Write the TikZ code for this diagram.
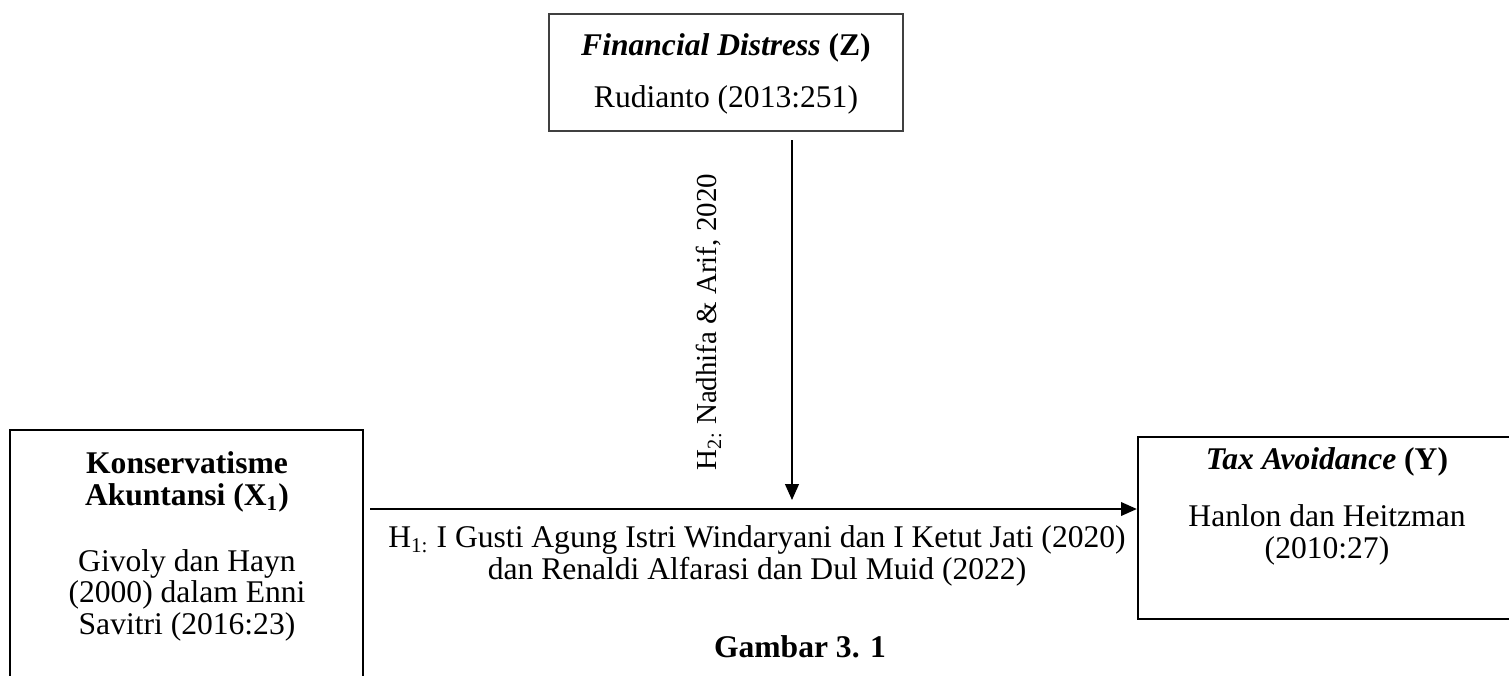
\documentclass[tikz,border=0pt]{standalone}
\usepackage{fontspec}
\newfontfamily\tnr{Liberation Serif}
\usetikzlibrary{arrows.meta,positioning}

\def\pxu{0.38pt}

\tikzset{
  % kotak variabel
  varbox/.style  = {draw, line width=0.9pt, inner sep=0pt},
  zbox/.style    = {draw=black!75, line width=0.6pt, inner sep=0pt},
  % teks
  txt/.style     = {font=\tnr\fontsize{12}{12}\selectfont, align=center, inner sep=0pt},
  boldtxt/.style = {txt, font=\tnr\bfseries\fontsize{12}{12}\selectfont},
  hyplab/.style  = {font=\tnr\fontsize{11}{12}\selectfont, inner sep=0pt},
  % panah
  arr/.style     = {-{Triangle[length=6pt,width=5.2pt]}, line width=0.6pt},
}

\begin{document}
\begin{tikzpicture}[x=\pxu, y=-\pxu]
  \useasboundingbox (0,0) rectangle (1509,675);
  % Kotak-kotak variabel
  \node[varbox, minimum width=353*\pxu, minimum height=260*\pxu] (X1) at (186.5,560) {};
  \node[varbox, minimum width=420*\pxu, minimum height=182*\pxu] (Y) at (1348,528) {};
  \node[zbox, minimum width=354*\pxu, minimum height=117*\pxu] (Z) at (726,72.5) {};
  % Isi kotak
  \node[boldtxt] (X1t) at (187,482) {Konservatisme\\Akuntansi (X\textsubscript{1})};
  \node[txt] (X1r) at (187,595) {Givoly dan Hayn\\(2000) dalam Enni\\Savitri (2016:23)};
  \node[txt] (Zt) at (726,48) {\textbf{\textit{Financial Distress} (Z)}};
  \node[txt] (Zr) at (726,100) {Rudianto (2013:251)};
  \node[txt] (Yt) at (1327,462) {\textbf{\textit{Tax Avoidance} (Y)}};
  \node[txt] (Yr) at (1327,535) {Hanlon dan Heitzman\\(2010:27)};
  % Panah hipotesis
  \coordinate (hstart) at (370,509);
  \coordinate (vtop) at (792,140);
  \coordinate (vend) at (792,500);
  \draw[arr] (hstart) -- (hstart -| Y.west);
  \draw[arr] (vtop) -- (vend);
  % Label hipotesis
  \node[txt] (H1) at (757,556) {H\textsubscript{1:} I Gusti Agung Istri Windaryani dan I Ketut Jati (2020)\\dan Renaldi Alfarasi dan Dul Muid (2022)};
  \node[hyplab, rotate=90] (H2) at (709,322) {H\textsubscript{2:} Nadhifa \& Arif, 2020};
  % Judul gambar
  \node[boldtxt] (cap) at (800,647) {Gambar 3. 1};
\end{tikzpicture}
\end{document}
